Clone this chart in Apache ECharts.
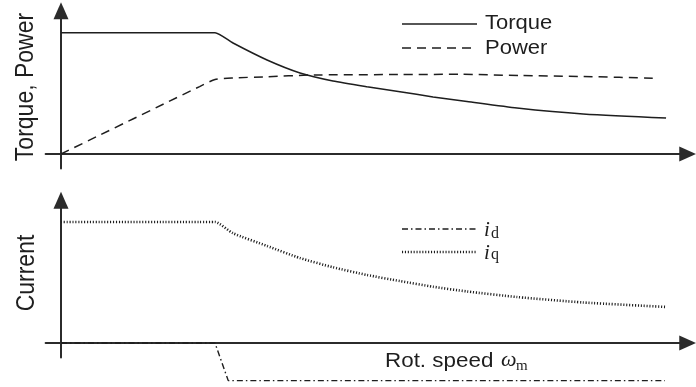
<!DOCTYPE html>
<html>
<head>
<meta charset="utf-8">
<script src="https://cdn.jsdelivr.net/npm/echarts@6/dist/echarts.min.js"></script>
<style>
  html, body { margin: 0; padding: 0; background: #fff; }
  #chart { width: 696px; height: 387px; }
</style>
</head>
<body>
<div id="chart"></div>
<script>
// Speed in per-unit of base speed; torque, power and currents in per-unit.
const speedTorque = [0, 0.9, 1.0, 1.117, 1.338, 1.552, 1.766, 1.987, 2.201, 2.416, 2.636, 2.961, 3.390, 3.929];
const torque      = [1.0, 1.0, 1.0, 0.915, 0.775, 0.668, 0.602, 0.555, 0.514, 0.470, 0.433, 0.379, 0.330, 0.297];

const speedPower = [0, 0.9, 1.0, 1.117, 1.338, 1.617, 2.201, 2.591, 2.981, 3.390, 3.880];
const power      = [0, 0.556, 0.614, 0.627, 0.637, 0.651, 0.655, 0.657, 0.647, 0.639, 0.624];

const speedIq = [0, 0.9, 1.0, 1.117, 1.338, 1.552, 1.766, 1.987, 2.201, 2.416, 2.636, 2.961, 3.390, 3.929];
const iq      = [1.0, 1.0, 1.0, 0.907, 0.802, 0.702, 0.626, 0.562, 0.512, 0.465, 0.426, 0.380, 0.335, 0.298];

const speedId = [0, 1.0, 1.086, 3.922];
const id      = [0, 0, -0.311, -0.311];

const legendTop = ['Torque', 'Power'];
const xAxisTitle = 'Rot. speed ';

// Layout (pixels)
const W = 696;
const originX = 61, unitX = 154;
const xMin = -0.1, xMax = 4.07;
const yMin = -0.12, yMax = 1.18;
const topOriginY = 154, topUnitY = 121.3;
const botOriginY = 343, botUnitY = 121;

const zip = (xs, ys) => xs.map((x, i) => [x, ys[i]]);

const gridLeft = originX + xMin * unitX;
const gridWidth = (xMax - xMin) * unitX;

const ink = '#1e1e1e';
const axisInk = '#2b2b2b';

function axisLine() {
  return {
    show: true,
    onZero: true,
    symbol: ['none', 'triangle'],
    symbolSize: [15, 17],
    lineStyle: { color: axisInk, width: 2 }
  };
}
function xAx(gi) {
  return {
    type: 'value', gridIndex: gi, min: xMin, max: xMax,
    axisLine: axisLine(), axisTick: { show: false }, axisLabel: { show: false }, splitLine: { show: false }
  };
}
function yAx(gi) {
  return {
    type: 'value', gridIndex: gi, min: yMin, max: yMax,
    axisLine: axisLine(), axisTick: { show: false }, axisLabel: { show: false }, splitLine: { show: false }
  };
}

const sansFont = '"Liberation Sans", Arial, sans-serif';
const serifFont = '"Liberation Serif", "Times New Roman", serif';

function legendLine(y, dash, width) {
  return {
    type: 'line', silent: true,
    shape: { x1: 402, y1: y, x2: 477, y2: y },
    style: { stroke: ink, lineWidth: width || 1.5, lineDash: dash }
  };
}
function txt(x, y, text, opts) {
  return Object.assign({
    type: 'text', silent: true, x: x, y: y,
    style: Object.assign({
      text: text, fill: ink, align: 'left', verticalAlign: 'middle',
      fontSize: 20, fontFamily: sansFont
    }, opts.style || {})
  }, opts.el || {});
}

const chart = echarts.init(document.getElementById('chart'), null, { renderer: 'canvas' });

chart.setOption({
  animation: false,
  backgroundColor: '#fff',
  grid: [
    { left: gridLeft, width: gridWidth, top: topOriginY - yMax * topUnitY, height: (yMax - yMin) * topUnitY },
    { left: gridLeft, width: gridWidth, top: botOriginY - yMax * botUnitY, height: (yMax - yMin) * botUnitY }
  ],
  xAxis: [xAx(0), xAx(1)],
  yAxis: [yAx(0), yAx(1)],
  series: [
    {
      name: 'Torque', type: 'line', xAxisIndex: 0, yAxisIndex: 0,
      data: zip(speedTorque, torque), showSymbol: false, smooth: 0.2,
      lineStyle: { color: ink, width: 1.5 }, clip: false
    },
    {
      name: 'Power', type: 'line', xAxisIndex: 0, yAxisIndex: 0,
      data: zip(speedPower, power), showSymbol: false, smooth: 0.2,
      lineStyle: { color: ink, width: 1.5, type: [9, 6] }, clip: false
    },
    {
      name: 'iq', type: 'line', xAxisIndex: 1, yAxisIndex: 1,
      data: zip(speedIq, iq), showSymbol: false, smooth: 0.2,
      lineStyle: { color: ink, width: 2.6, type: [1.1, 1.8] }, clip: false
    },
    {
      name: 'id', type: 'line', xAxisIndex: 1, yAxisIndex: 1,
      data: zip(speedId, id), showSymbol: false,
      lineStyle: { color: ink, width: 1.4, type: [6, 3, 1.5, 3] }, clip: false
    }
  ],
  graphic: [
    // Torque / power key
    legendLine(24, null, 1.5),
    legendLine(48, [9, 6], 1.5),
    txt(485, 23, legendTop[0], { el: { scaleX: 1.1 } }),
    txt(485, 48, legendTop[1], { el: { scaleX: 1.1 } }),
    // Current key
    legendLine(229, [6, 3, 1.5, 3], 1.4),
    legendLine(252, [1.1, 1.8], 2.6),
    txt(484, 230, 'i', { style: { fontFamily: serifFont, fontStyle: 'italic', fontSize: 21 } }),
    txt(491, 233.5, 'd', { style: { fontFamily: serifFont, fontSize: 16 } }),
    txt(484, 253, 'i', { style: { fontFamily: serifFont, fontStyle: 'italic', fontSize: 21 } }),
    txt(491, 255, 'q', { style: { fontFamily: serifFont, fontSize: 16 } }),
    // Axis titles
    txt(385, 361, xAxisTitle, { el: { scaleX: 1.12 } }),
    txt(501, 360.5, 'ω', { style: { fontFamily: serifFont, fontStyle: 'italic', fontSize: 22 } }),
    txt(516, 366, 'm', { style: { fontFamily: serifFont, fontSize: 15 } }),
    txt(26, 87, 'Torque, Power', {
      style: { align: 'center', fontSize: 23 },
      el: { rotation: Math.PI / 2, scaleY: 1.1 }
    }),
    txt(27, 273, 'Current', {
      style: { align: 'center', fontSize: 23 },
      el: { rotation: Math.PI / 2, scaleY: 1.1 }
    })
  ]
});
</script>
</body>
</html>
